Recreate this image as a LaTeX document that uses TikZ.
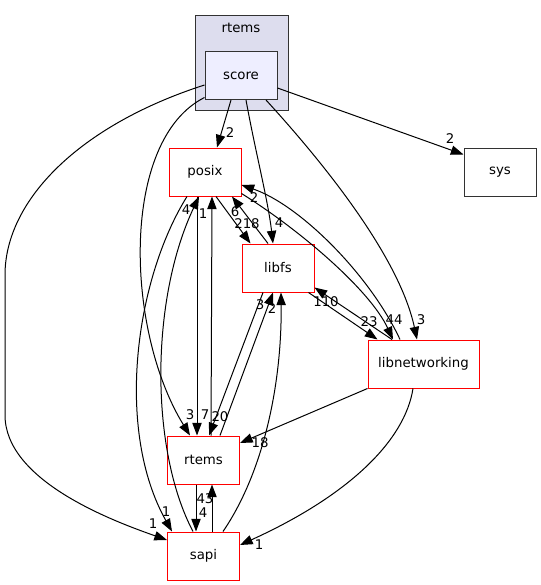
\documentclass[tikz,border=0pt]{standalone}
\usepackage{fontspec}
\setmainfont{DejaVu Sans}
\usepackage{tikz}
\usetikzlibrary{arrows.meta,calc}
\definecolor{dxred}{RGB}{255,0,0}
\definecolor{dxgrp}{RGB}{221,221,238}
\definecolor{dxcur}{RGB}{238,238,255}
\definecolor{dxpen}{RGB}{50,50,50}
\tikzset{
	every node/.style = { align = center, draw, font=\fontsize{10}{12}\selectfont },
	box/.style = { rectangle, minimum width=54pt, minimum height=36pt, line width=.75pt, inner sep=1pt },
	dir/.style = { box, draw=dxred },
	cur/.style = { box, draw=dxpen, fill=dxcur },
	ext/.style = { box, draw=dxpen },
	grp/.style = { rectangle, draw=dxpen, fill=dxgrp, line width=.75pt, minimum width=69.75pt, minimum height=70.5pt },
	clr/.style = { draw=none },
	num/.style = { clr, inner sep=0pt },
	dep/.style = { -{Triangle[length=9.5pt,width=7pt]}, line width=.75pt },
}

\begin{document}
\begin{tikzpicture}[x=0.75pt,y=-0.75pt]
\useasboundingbox (0,0) rectangle (541,585);

\node (grp)   [grp] at (241.5,63) {};
\node (ghead) [clr] at (241,28)   {rtems};
\node (score) [cur] at (241,75.5) {score};
\node (posix) [dir] at (205,172)  {posix};
\node (sys)   [ext] at (500,172)  {sys};
\node (libfs) [dir] at (278,268)  {libfs};
\node (libnetworking) [dir,minimum width=83.25pt] at (423.5,364) {libnetworking};
\node (rtems) [dir] at (203.5,460) {rtems};
\node (sapi)  [dir] at (203.5,556) {sapi};

\draw[dep] ($(score.south)+(-10,0)$) -- ($(posix.north)+(12,0)$);
\draw[dep] ($(score.east)+(0,12.5)$) -- ($(sys.north west)+(0,7)$);
\draw[dep] ($(score.south)+(5,0)$) .. controls (255,150) and (268,200) .. ($(libfs.north)+(-5,0)$);
\draw[dep] ($(score.south)+(25,0)$) .. controls (330,170) and (400,260) .. ($(libnetworking.north)+(-6.5,0)$);
\draw[dep] ($(score.south west)+(0,-2.5)$) .. controls (120,140) and (125,330) .. ($(rtems.north)+(-13.5,0)$);
\draw[dep] ($(score.west)+(0,9.5)$) .. controls (80,125) and (5,200) .. (5,275) -- (5,415) .. controls (5,480) and (110,520) .. ($(sapi.west)+(0,-16)$);

\draw[dep] ($(posix.south)+(11,0)$) -- ($(libfs.north west)+(9,0)$);
\draw[dep] ($(libfs.north)+(-10,0)$) -- ($(posix.south)+(27,0)$);
\draw[dep] ($(posix.south east)+(0,-3)$) .. controls (300,230) and (370,290) .. ($(libnetworking.north)+(-30.5,0)$);
\draw[dep] ($(libnetworking.north)+(-23.5,0)$) .. controls (370,275) and (300,205) .. ($(posix.east)+(0,13)$);
\draw[dep] ($(libfs.south east)+(-6,0)$) -- ($(libnetworking.north west)+(10,0)$);
\draw[dep] ($(libnetworking.north)+(-31.5,0)$) -- ($(libfs.south east)+(0,-5)$);
\draw[dep] ($(posix.south)+(-8,0)$) -- ($(rtems.north)+(-6.5,0)$);
\draw[dep] ($(rtems.north)+(7.5,0)$) -- ($(posix.south)+(7,0)$);
\draw[dep] ($(posix.south)+(-18,0)$) .. controls (135,280) and (115,430) .. ($(sapi.north)+(-31.5,0)$);
\draw[dep] ($(sapi.north)+(-10.5,0)$) .. controls (150,450) and (150,300) .. ($(posix.south)+(-6,0)$);
\draw[dep] ($(libfs.south)+(-15,0)$) -- ($(rtems.north)+(5.5,0)$);
\draw[dep] ($(rtems.north)+(16.5,0)$) -- ($(libfs.south)+(-5,0)$);
\draw[dep] ($(sapi.north)+(19.5,0)$) .. controls (265,470) and (282,380) .. ($(libfs.south)+(3,0)$);
\draw[dep] (libnetworking.south west) -- ($(rtems.east)+(0,-17)$);
\draw[dep] ($(libnetworking.south)+(-10.5,0)$) .. controls (405,440) and (350,495) .. ($(sapi.east)+(0,-11)$);
\draw[dep] ($(rtems.south)+(-7.5,0)$) -- ($(sapi.north)+(-7.5,0)$);
\draw[dep] ($(sapi.north)+(8.5,0)$) -- ($(rtems.south)+(8.5,0)$);

\node (n-score-posix)  [num] at (230,133) {2};
\node (n-score-sys)    [num] at (450,139) {2};
\node (n-score-libfs)  [num] at (279,223) {4};
\node (n-score-libnet) [num] at (421,320) {3};
\node (n-score-rtems)  [num] at (190,415) {3};
\node (n-score-sapi)   [num] at (153,524) {1};
\node (n-posix-libfs)  [num] at (247,224) {218};
\node (n-libfs-posix)  [num] at (235,212) {6};
\node (n-posix-libnet) [num] at (394,320) {44};
\node (n-libnet-posix) [num] at (254,198) {2};
\node (n-libfs-libnet) [num] at (369,322) {23};
\node (n-libnet-libfs) [num] at (326,302) {110};
\node (n-posix-rtems)  [num] at (205,415) {7};
\node (n-rtems-posix)  [num] at (203,214) {1};
\node (n-posix-sapi)   [num] at (166,512) {1};
\node (n-sapi-posix)   [num] at (186,210) {4};
\node (n-libfs-rtems)  [num] at (220,417) {20};
\node (n-rtems-libfs)  [num] at (260,305) {3};
\node (n-sapi-libfs)   [num] at (272,309) {2};
\node (n-libnet-rtems) [num] at (260,443) {18};
\node (n-libnet-sapi)  [num] at (259,545) {1};
\node (n-rtems-sapi)   [num] at (203,513) {4};
\node (n-sapi-rtems)   [num] at (205,499) {43};

\end{tikzpicture}
\end{document}
